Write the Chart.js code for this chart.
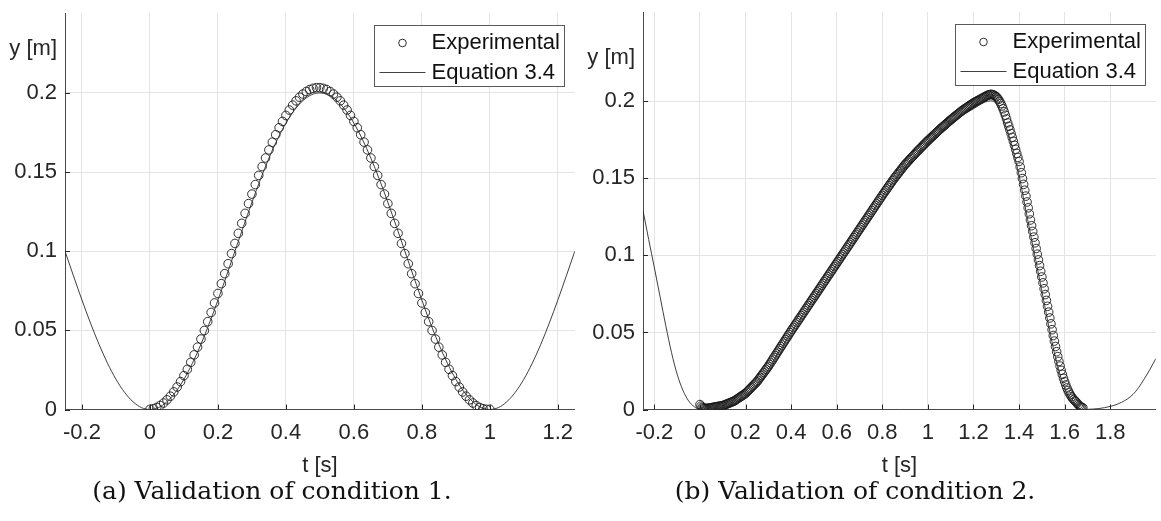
<!DOCTYPE html>
<html>
<head>
<meta charset="utf-8">
<script src="https://cdn.jsdelivr.net/npm/chart.js@4.4.1/dist/chart.umd.min.js"></script>
<style>
  html, body { margin: 0; padding: 0; background: #fff; }
  body { width: 1161px; height: 521px; position: relative; overflow: hidden; }
  canvas { position: absolute; top: 0; }
  #chartA { left: 0; }
  #chartB { left: 580px; }
  .caption {
    position: absolute; top: 476px; white-space: nowrap;
    font-family: "DejaVu Serif", "Liberation Serif", serif; font-size: 25px; color: #111;
    transform: translateX(-50%);
  }
</style>
</head>
<body>
<canvas id="chartA" width="580" height="500"></canvas>
<canvas id="chartB" width="581" height="500"></canvas>
<div class="caption" style="left:272px">(a) Validation of condition 1.</div>
<div class="caption" style="left:855px">(b) Validation of condition 2.</div>
<script>
// ---- condition 1 ----
const expStartA = 0, expStepA = 0.01;   // camera samples
const expYA = [
  0.0001, 0.0005, 0.0013, 0.0025, 0.0041, 0.0061, 0.0084, 0.0111, 0.0142, 0.0176,
  0.0214, 0.0254, 0.0298, 0.0345, 0.0394, 0.0445, 0.0499, 0.0555, 0.0613, 0.0673,
  0.0733, 0.0795, 0.0858, 0.0921, 0.0985, 0.1049, 0.1113, 0.1176, 0.1239, 0.1301,
  0.1361, 0.1421, 0.1479, 0.1535, 0.1589, 0.1640, 0.1689, 0.1736, 0.1780, 0.1820,
  0.1858, 0.1892, 0.1923, 0.1950, 0.1973, 0.1993, 0.2009, 0.2021, 0.2029, 0.2033,
  0.2033, 0.2029, 0.2021, 0.2009, 0.1993, 0.1973, 0.1950, 0.1923, 0.1892, 0.1858,
  0.1820, 0.1780, 0.1736, 0.1689, 0.1640, 0.1589, 0.1535, 0.1479, 0.1421, 0.1361,
  0.1301, 0.1239, 0.1176, 0.1113, 0.1049, 0.0985, 0.0921, 0.0858, 0.0795, 0.0733,
  0.0673, 0.0613, 0.0555, 0.0499, 0.0445, 0.0394, 0.0345, 0.0298, 0.0254, 0.0214,
  0.0176, 0.0142, 0.0111, 0.0084, 0.0061, 0.0041, 0.0025, 0.0013, 0.0005, 0.0001,
  0.0001
];
const eqStartA = -0.25, eqStepA = 0.025;
const eqYA = [
  0.1000, 0.0844, 0.0691, 0.0546, 0.0412, 0.0293, 0.0191, 0.0109, 0.0049, 0.0012,
  0.0000, 0.0012, 0.0049, 0.0109, 0.0191, 0.0293, 0.0412, 0.0546, 0.0691, 0.0844,
  0.1000, 0.1156, 0.1309, 0.1454, 0.1588, 0.1707, 0.1809, 0.1891, 0.1951, 0.1988,
  0.2000, 0.1988, 0.1951, 0.1891, 0.1809, 0.1707, 0.1588, 0.1454, 0.1309, 0.1156,
  0.1000, 0.0844, 0.0691, 0.0546, 0.0412, 0.0293, 0.0191, 0.0109, 0.0049, 0.0012,
  0.0000, 0.0012, 0.0049, 0.0109, 0.0191, 0.0293, 0.0412, 0.0546, 0.0691, 0.0844,
  0.1000
];
const ticksXA = [-0.2, 0, 0.2, 0.4, 0.6, 0.8, 1, 1.2];
const tickLabelsXA = ["-0.2", "0", "0.2", "0.4", "0.6", "0.8", "1", "1.2"];

// ---- condition 2 ----
const expStartB = 0, expStepB = 0.005;
const expYB = [
  0.0032, 0.0022, 0.0014, 0.0010, 0.0008, 0.0007, 0.0007, 0.0008, 0.0009, 0.0010,
  0.0012, 0.0013, 0.0015, 0.0016, 0.0017, 0.0019, 0.0020, 0.0021, 0.0022, 0.0024,
  0.0025, 0.0028, 0.0031, 0.0034, 0.0037, 0.0040, 0.0043, 0.0046, 0.0049, 0.0052,
  0.0055, 0.0060, 0.0065, 0.0070, 0.0075, 0.0080, 0.0085, 0.0090, 0.0095, 0.0100,
  0.0105, 0.0113, 0.0120, 0.0128, 0.0135, 0.0143, 0.0150, 0.0158, 0.0165, 0.0173,
  0.0180, 0.0190, 0.0200, 0.0210, 0.0220, 0.0230, 0.0240, 0.0250, 0.0260, 0.0270,
  0.0280, 0.0292, 0.0303, 0.0315, 0.0326, 0.0338, 0.0349, 0.0361, 0.0372, 0.0384,
  0.0395, 0.0407, 0.0418, 0.0430, 0.0441, 0.0453, 0.0464, 0.0476, 0.0487, 0.0499,
  0.0510, 0.0521, 0.0532, 0.0543, 0.0554, 0.0565, 0.0576, 0.0587, 0.0598, 0.0609,
  0.0620, 0.0631, 0.0642, 0.0653, 0.0664, 0.0675, 0.0686, 0.0697, 0.0708, 0.0719,
  0.0730, 0.0741, 0.0752, 0.0763, 0.0774, 0.0785, 0.0796, 0.0807, 0.0818, 0.0829,
  0.0840, 0.0851, 0.0862, 0.0873, 0.0884, 0.0895, 0.0906, 0.0917, 0.0928, 0.0939,
  0.0950, 0.0961, 0.0972, 0.0983, 0.0994, 0.1005, 0.1016, 0.1027, 0.1038, 0.1049,
  0.1060, 0.1071, 0.1082, 0.1093, 0.1104, 0.1115, 0.1126, 0.1137, 0.1148, 0.1159,
  0.1170, 0.1181, 0.1192, 0.1203, 0.1214, 0.1225, 0.1236, 0.1247, 0.1258, 0.1269,
  0.1280, 0.1291, 0.1302, 0.1313, 0.1324, 0.1335, 0.1346, 0.1357, 0.1368, 0.1379,
  0.1390, 0.1401, 0.1411, 0.1422, 0.1432, 0.1443, 0.1453, 0.1464, 0.1474, 0.1485,
  0.1495, 0.1505, 0.1514, 0.1524, 0.1533, 0.1543, 0.1552, 0.1562, 0.1571, 0.1581,
  0.1590, 0.1598, 0.1606, 0.1614, 0.1622, 0.1630, 0.1638, 0.1646, 0.1654, 0.1662,
  0.1670, 0.1678, 0.1685, 0.1693, 0.1700, 0.1708, 0.1715, 0.1723, 0.1730, 0.1738,
  0.1745, 0.1752, 0.1759, 0.1766, 0.1773, 0.1780, 0.1787, 0.1794, 0.1801, 0.1808,
  0.1815, 0.1822, 0.1828, 0.1835, 0.1841, 0.1848, 0.1854, 0.1861, 0.1867, 0.1874,
  0.1880, 0.1886, 0.1892, 0.1898, 0.1904, 0.1910, 0.1916, 0.1922, 0.1928, 0.1934,
  0.1940, 0.1945, 0.1950, 0.1955, 0.1960, 0.1965, 0.1970, 0.1975, 0.1980, 0.1985,
  0.1990, 0.1994, 0.1998, 0.2002, 0.2006, 0.2010, 0.2014, 0.2018, 0.2022, 0.2026,
  0.2030, 0.2034, 0.2038, 0.2041, 0.2043, 0.2045, 0.2045, 0.2043, 0.2040, 0.2036,
  0.2030, 0.2022, 0.2012, 0.2000, 0.1986, 0.1970, 0.1952, 0.1932, 0.1910, 0.1886,
  0.1860, 0.1838, 0.1815, 0.1791, 0.1766, 0.1741, 0.1715, 0.1689, 0.1662, 0.1636,
  0.1610, 0.1574, 0.1537, 0.1499, 0.1461, 0.1423, 0.1385, 0.1347, 0.1309, 0.1270,
  0.1230, 0.1193, 0.1156, 0.1119, 0.1082, 0.1045, 0.1008, 0.0971, 0.0934, 0.0897,
  0.0860, 0.0822, 0.0784, 0.0746, 0.0708, 0.0670, 0.0632, 0.0594, 0.0556, 0.0518,
  0.0480, 0.0444, 0.0409, 0.0375, 0.0343, 0.0312, 0.0282, 0.0254, 0.0228, 0.0203,
  0.0180, 0.0159, 0.0140, 0.0123, 0.0108, 0.0095, 0.0083, 0.0073, 0.0064, 0.0056,
  0.0050, 0.0040, 0.0031, 0.0024, 0.0018, 0.0014, 0.0011
];
const eqStartB = -0.25, eqStepB = 0.025;
const eqYB = [
  0.1292, 0.1103, 0.0919, 0.0732, 0.0544, 0.0370, 0.0228, 0.0125, 0.0056, 0.0018,
  0.0000, 0.0001, 0.0003, 0.0007, 0.0013, 0.0022, 0.0034, 0.0050, 0.0072, 0.0102,
  0.0148, 0.0200, 0.0260, 0.0325, 0.0385, 0.0442, 0.0500, 0.0555, 0.0610, 0.0665,
  0.0720, 0.0775, 0.0830, 0.0885, 0.0940, 0.0995, 0.1050, 0.1105, 0.1160, 0.1215,
  0.1270, 0.1325, 0.1380, 0.1432, 0.1482, 0.1530, 0.1576, 0.1619, 0.1660, 0.1698,
  0.1734, 0.1768, 0.1800, 0.1830, 0.1858, 0.1884, 0.1908, 0.1930, 0.1952, 0.1975,
  0.1995, 0.2003, 0.1985, 0.1905, 0.1805, 0.1675, 0.1520, 0.1330, 0.1140, 0.0956,
  0.0770, 0.0580, 0.0400, 0.0250, 0.0140, 0.0065, 0.0022, 0.0001, 0.0001, 0.0003,
  0.0006, 0.0012, 0.0020, 0.0031, 0.0047, 0.0068, 0.0098, 0.0143, 0.0200, 0.0262,
  0.0330
];
const ticksXB = [-0.2, 0, 0.2, 0.4, 0.6, 0.8, 1, 1.2, 1.4, 1.6, 1.8];
const tickLabelsXB = ["-0.2", "0", "0.2", "0.4", "0.6", "0.8", "1", "1.2", "1.4", "1.6", "1.8"];

// ---- shared ----
const ticksY = [0, 0.05, 0.1, 0.15, 0.2];
const tickLabelsY = ["0", "0.05", "0.1", "0.15", "0.2"];
const seriesNames = ["Experimental", "Equation 3.4"];
const yTitleAt = 0.228;

const FONT = "'Liberation Sans', Arial, Helvetica, sans-serif";
const INK = "#262626";

const toPoints = (start, step, values) =>
  values.map((y, i) => ({ x: +(start + i * step).toFixed(4), y }));

// MATLAB-like extras: inward tick marks, horizontal y label, boxed legend
const matlabLook = {
  id: "matlabLook",
  afterDraw(chart) {
    const { ctx, chartArea: area, scales } = chart;
    const xs = scales.x, ys = scales.y;
    ctx.save();
    ctx.strokeStyle = INK;
    ctx.lineWidth = 1;
    ctx.beginPath();
    xs.ticks.forEach(t => {
      const px = Math.round(xs.getPixelForValue(t.value)) + 0.5;
      ctx.moveTo(px, area.bottom);
      ctx.lineTo(px, area.bottom - 5);
    });
    ys.ticks.forEach(t => {
      const py = Math.round(ys.getPixelForValue(t.value)) + 0.5;
      ctx.moveTo(area.left, py);
      ctx.lineTo(area.left + 5, py);
    });
    ctx.stroke();

    ctx.font = "22px " + FONT;
    ctx.fillStyle = INK;
    ctx.textAlign = "right";
    ctx.textBaseline = "middle";
    ctx.fillText("y [m]", area.left - 8, ys.getPixelForValue(yTitleAt));

    // legend
    const textW = Math.max(...seriesNames.map(n => ctx.measureText(n).width));
    const w = Math.round(57 + textW + 5), h = 61;
    const x0 = Math.round(area.right - 11 - w) + 0.5;
    const y0 = Math.round(area.top + 12) + 0.5;
    ctx.fillStyle = "#fff";
    ctx.fillRect(x0, y0, w, h);
    ctx.strokeStyle = "#5a5a5a";
    ctx.strokeRect(x0, y0, w, h);

    const rowY = [y0 + 17.5, y0 + 47];
    const expDs = chart.data.datasets[1];
    const eqDs = chart.data.datasets[0];
    ctx.beginPath();
    ctx.strokeStyle = expDs.pointBorderColor;
    ctx.lineWidth = expDs.pointBorderWidth;
    ctx.arc(x0 + 28, rowY[0], 3.8, 0, Math.PI * 2);
    ctx.stroke();
    ctx.beginPath();
    ctx.strokeStyle = eqDs.borderColor;
    ctx.lineWidth = eqDs.borderWidth;
    ctx.moveTo(x0 + 5, rowY[1]);
    ctx.lineTo(x0 + 51, rowY[1]);
    ctx.stroke();

    ctx.fillStyle = "#111";
    ctx.textAlign = "left";
    ctx.fillText(seriesNames[0], x0 + 57, rowY[0]);
    ctx.fillText(seriesNames[1], x0 + 57, rowY[1]);
    ctx.restore();
  }
};

function makeChart(id, cfg) {
  const tickFont = { family: FONT, size: 22 };
  return new Chart(document.getElementById(id), {
    type: "scatter",
    data: {
      datasets: [
        {
          label: seriesNames[1],
          data: toPoints(cfg.eqStart, cfg.eqStep, cfg.eqY),
          showLine: true,
          pointRadius: 0,
          borderColor: "#2a2a2a",
          borderWidth: 0.9,
          cubicInterpolationMode: "monotone"
        },
        {
          label: seriesNames[0],
          data: toPoints(cfg.expStart, cfg.expStep, cfg.expY),
          showLine: false,
          pointStyle: "circle",
          pointRadius: 4.3,
          pointBorderWidth: 0.9,
          pointBorderColor: "#1a1a1a",
          pointBackgroundColor: "rgba(0,0,0,0)"
        }
      ]
    },
    options: {
      responsive: false,
      animation: false,
      devicePixelRatio: 1,
      layout: { padding: { top: cfg.top, right: cfg.right, left: 0, bottom: 0 } },
      plugins: { legend: { display: false }, tooltip: { enabled: false } },
      scales: {
        x: {
          type: "linear",
          min: cfg.xMin,
          max: cfg.xMax,
          afterBuildTicks: s => { s.ticks = cfg.ticksX.map(v => ({ value: v })); },
          afterFit: s => { s.height = 90.5; s.paddingLeft = 0; s.paddingRight = 0; },
          grid: { color: "#e4e4e4", lineWidth: 1, drawTicks: false },
          border: { display: true, color: "#4a4a4a", width: 1 },
          ticks: {
            padding: 10, color: INK, font: tickFont, maxRotation: 0, autoSkip: false,
            callback: (v, i) => cfg.tickLabelsX[i]
          },
          title: {
            display: true, text: "t [s]", color: INK, font: tickFont,
            padding: { top: 0, bottom: 21 }
          }
        },
        y: {
          type: "linear",
          min: 0,
          max: cfg.yMax,
          afterBuildTicks: s => { s.ticks = ticksY.map(v => ({ value: v })); },
          afterFit: s => { s.width = cfg.yWidth; s.paddingTop = 0; s.paddingBottom = 0; },
          grid: { color: "#e4e4e4", lineWidth: 1, drawTicks: false },
          border: { display: true, color: "#4a4a4a", width: 1 },
          ticks: {
            padding: 8, color: INK, font: tickFont, autoSkip: false,
            callback: (v, i) => tickLabelsY[i]
          }
        }
      }
    },
    plugins: [matlabLook]
  });
}

makeChart("chartA", {
  expStart: expStartA, expStep: expStepA, expY: expYA,
  eqStart: eqStartA, eqStep: eqStepA, eqY: eqYA,
  ticksX: ticksXA, tickLabelsX: tickLabelsXA,
  xMin: -0.25, xMax: 1.25, yMax: 0.2505,
  top: 13, right: 2, yWidth: 65
});

makeChart("chartB", {
  expStart: expStartB, expStep: expStepB, expY: expYB,
  eqStart: eqStartB, eqStep: eqStepB, eqY: eqYB,
  ticksX: ticksXB, tickLabelsX: tickLabelsXB,
  xMin: -0.25, xMax: 2.0, yMax: 0.258,
  top: 12, right: 1, yWidth: 63
});
</script>
</body>
</html>
